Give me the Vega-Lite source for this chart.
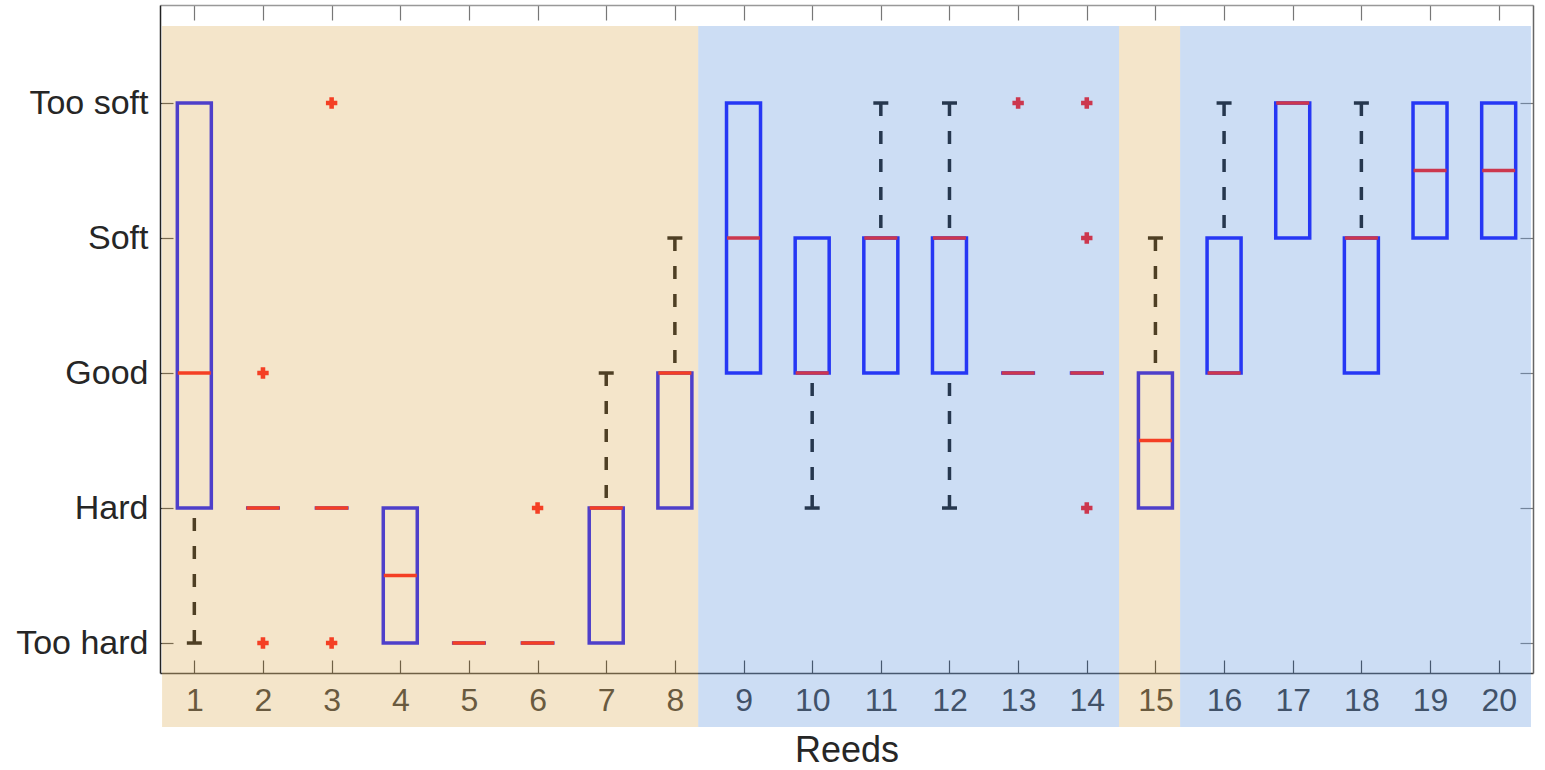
{
  "$schema": "https://vega.github.io/schema/vega-lite/v6.json",
  "width": 1373,
  "height": 668,
  "autosize": {"type": "none"},
  "padding": {"left": 160, "top": 5, "right": 12, "bottom": 97},
  "config": {
    "view": {"stroke": null},
    "font": "Liberation Sans",
    "axis": {"grid": false}
  },
  "datasets": {
    "boxes": [
      {"reed": 1, "lower": 1, "q1": 2, "median": 3, "q3": 5, "upper": 5},
      {"reed": 2, "lower": 2, "q1": 2, "median": 2, "q3": 2, "upper": 2},
      {"reed": 3, "lower": 2, "q1": 2, "median": 2, "q3": 2, "upper": 2},
      {"reed": 4, "lower": 1, "q1": 1, "median": 1.5, "q3": 2, "upper": 2},
      {"reed": 5, "lower": 1, "q1": 1, "median": 1, "q3": 1, "upper": 1},
      {"reed": 6, "lower": 1, "q1": 1, "median": 1, "q3": 1, "upper": 1},
      {"reed": 7, "lower": 1, "q1": 1, "median": 2, "q3": 2, "upper": 3},
      {"reed": 8, "lower": 2, "q1": 2, "median": 3, "q3": 3, "upper": 4},
      {"reed": 9, "lower": 3, "q1": 3, "median": 4, "q3": 5, "upper": 5},
      {"reed": 10, "lower": 2, "q1": 3, "median": 3, "q3": 4, "upper": 4},
      {"reed": 11, "lower": 3, "q1": 3, "median": 4, "q3": 4, "upper": 5},
      {"reed": 12, "lower": 2, "q1": 3, "median": 4, "q3": 4, "upper": 5},
      {"reed": 13, "lower": 3, "q1": 3, "median": 3, "q3": 3, "upper": 3},
      {"reed": 14, "lower": 3, "q1": 3, "median": 3, "q3": 3, "upper": 3},
      {"reed": 15, "lower": 2, "q1": 2, "median": 2.5, "q3": 3, "upper": 4},
      {"reed": 16, "lower": 3, "q1": 3, "median": 3, "q3": 4, "upper": 5},
      {"reed": 17, "lower": 4, "q1": 4, "median": 5, "q3": 5, "upper": 5},
      {"reed": 18, "lower": 3, "q1": 3, "median": 4, "q3": 4, "upper": 5},
      {"reed": 19, "lower": 4, "q1": 4, "median": 4.5, "q3": 5, "upper": 5},
      {"reed": 20, "lower": 4, "q1": 4, "median": 4.5, "q3": 5, "upper": 5}
    ],
    "outliers": [
      {"reed": 2, "value": 3},
      {"reed": 2, "value": 1},
      {"reed": 3, "value": 5},
      {"reed": 3, "value": 1},
      {"reed": 6, "value": 2},
      {"reed": 13, "value": 5},
      {"reed": 14, "value": 5},
      {"reed": 14, "value": 4},
      {"reed": 14, "value": 2}
    ],
    "spans": [
      {"from": 0.53, "to": 8.34, "group": "a"},
      {"from": 8.34, "to": 14.47, "group": "b"},
      {"from": 14.47, "to": 15.36, "group": "a"},
      {"from": 15.36, "to": 20.47, "group": "b"}
    ]
  },
  "resolve": {"axis": {"x": "independent", "y": "independent"}},
  "layer": [
    {
      "data": {"name": "boxes"},
      "mark": {"type": "bar", "width": 34, "fill": "transparent", "stroke": "#0000ff", "strokeWidth": 3.5},
      "encoding": {
        "x": {
          "field": "reed", "type": "quantitative",
          "scale": {"domain": [0.5, 20.5], "nice": false, "zero": false, "padding": 0},
          "axis": {
            "orient": "bottom", "title": "Reeds", "values": [1,2,3,4,5,6,7,8,9,10,11,12,13,14,15,16,17,18,19,20],
            "labelFontSize": 32, "labelColor": "#2a2a2a", "labelPadding": 25, "labelFlush": false, "labelOverlap": false,
            "titleFontSize": 36, "titleFontWeight": "normal", "titleColor": "#262626", "titlePadding": 17,
            "tickSize": -13, "tickColor": "#333333", "tickWidth": 1.2,
            "domainColor": "#333333", "domainWidth": 1.5
          }
        },
        "y": {
          "field": "q1", "type": "quantitative",
          "scale": {"domain": [0.778, 5.726], "nice": false, "zero": false, "padding": 0},
          "axis": {
            "orient": "left", "title": null, "values": [1, 2, 3, 4, 5],
            "labelExpr": "['', 'Too hard', 'Hard', 'Good', 'Soft', 'Too soft'][datum.value]",
            "labelFontSize": 34, "labelColor": "#262626", "labelPadding": 25,
            "tickSize": -13, "tickColor": "#444444", "tickWidth": 1.2,
            "domainColor": "#222222", "domainWidth": 1.5
          }
        },
        "y2": {"field": "q3"}
      }
    },
    {
      "data": {"name": "boxes"},
      "transform": [{"filter": "datum.upper > datum.q3"}],
      "mark": {"type": "rule", "color": "#000000", "strokeWidth": 3.5, "strokeDash": [13, 15]},
      "encoding": {
        "x": {"field": "reed", "type": "quantitative", "axis": null},
        "y": {"field": "upper", "type": "quantitative", "axis": null},
        "y2": {"field": "q3"}
      }
    },
    {
      "data": {"name": "boxes"},
      "transform": [{"filter": "datum.lower < datum.q1"}],
      "mark": {"type": "rule", "color": "#000000", "strokeWidth": 3.5, "strokeDash": [13, 15]},
      "encoding": {
        "x": {"field": "reed", "type": "quantitative", "axis": null},
        "y": {"field": "lower", "type": "quantitative", "axis": null},
        "y2": {"field": "q1"}
      }
    },
    {
      "data": {"name": "boxes"},
      "transform": [{"filter": "datum.upper > datum.q3"}],
      "mark": {"type": "tick", "orient": "horizontal", "color": "#000000", "opacity": 1, "size": 15, "thickness": 3.5},
      "encoding": {
        "x": {"field": "reed", "type": "quantitative", "axis": null},
        "y": {"field": "upper", "type": "quantitative", "axis": null}
      }
    },
    {
      "data": {"name": "boxes"},
      "transform": [{"filter": "datum.lower < datum.q1"}],
      "mark": {"type": "tick", "orient": "horizontal", "color": "#000000", "opacity": 1, "size": 15, "thickness": 3.5},
      "encoding": {
        "x": {"field": "reed", "type": "quantitative", "axis": null},
        "y": {"field": "lower", "type": "quantitative", "axis": null}
      }
    },
    {
      "data": {"name": "boxes"},
      "mark": {"type": "tick", "orient": "horizontal", "color": "#ff0000", "opacity": 1, "size": 33, "thickness": 3.6},
      "encoding": {
        "x": {
          "field": "reed", "type": "quantitative",
          "axis": {"orient": "top", "title": null, "labels": false, "values": [1,2,3,4,5,6,7,8,9,10,11,12,13,14,15,16,17,18,19,20], "tickSize": -15, "tickColor": "#777777", "tickWidth": 1.2, "domainColor": "#999999", "domainWidth": 1.5}
        },
        "y": {
          "field": "median", "type": "quantitative",
          "axis": {"orient": "right", "title": null, "labels": false, "values": [1, 2, 3, 4, 5], "tickSize": -13, "tickColor": "#777777", "tickWidth": 1.2, "domainColor": "#666666", "domainWidth": 1.5}
        }
      }
    },
    {
      "data": {"name": "outliers"},
      "mark": {"type": "point", "shape": "cross", "filled": true, "color": "#ff0000", "opacity": 1, "size": 130},
      "encoding": {
        "x": {"field": "reed", "type": "quantitative", "axis": null},
        "y": {"field": "value", "type": "quantitative", "axis": null}
      }
    },
    {
      "data": {"name": "spans"},
      "mark": {"type": "rect", "opacity": 0.35},
      "encoding": {
        "x": {"field": "from", "type": "quantitative", "axis": null},
        "x2": {"field": "to"},
        "y": {"datum": 0.378, "type": "quantitative", "axis": null},
        "y2": {"datum": 5.57},
        "color": {"field": "group", "type": "nominal", "scale": {"domain": ["a", "b"], "range": ["#dfb467", "#6d9ddf"]}, "legend": null}
      }
    }
  ]
}
